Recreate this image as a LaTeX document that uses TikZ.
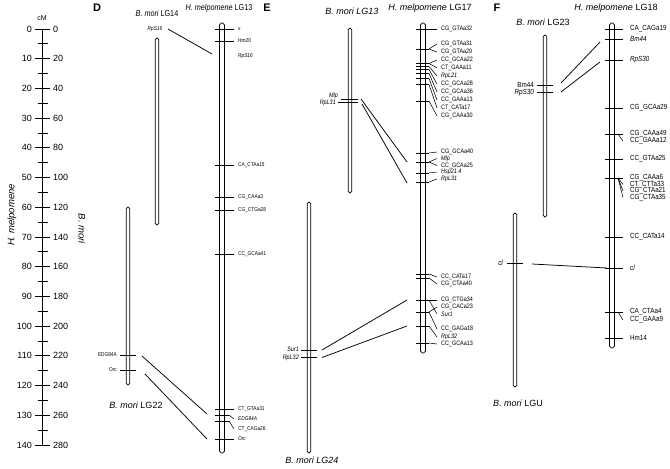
\documentclass[tikz,border=0pt]{standalone}
\usepackage{fontspec}
\setmainfont{Liberation Sans}
\newfontfamily\nf{Liberation Sans}[FakeStretch=0.85]
\newcommand\chrom[4]{\draw[chromo] (#1-#4,#2) rectangle (#1+#4,#3);}
% H-side marker: name, tick y, label y, text
\newcommand\hm[4]{%
  \draw[tk] (\cx-\tl,#2) coordinate (#1t) -- (\cx+\tr,#2) coordinate (#1r);
  \draw[leader] (#1r) -- (\cx+\be,#3);
  \node[lab] (#1) at (\cx+\lo,#3) {#4};
}
\begin{document}
\begin{tikzpicture}[x=1pt,y=-1pt,
  chromo/.style={draw=black,line width=0.75pt,fill=white,rounded corners=1.7pt},
  tk/.style={line width=0.9pt},
  leader/.style={line width=0.55pt},
  link/.style={line width=0.75pt},
  sc/.style={font=\fontsize{9}{10}\selectfont,inner sep=0pt},
  panel/.style={font=\fontsize{11}{12}\selectfont\bfseries,inner sep=0pt},
  ttlS/.style={font=\nf\fontsize{8.5}{9}\selectfont,inner sep=0pt},
  ttlL/.style={font=\fontsize{9}{10}\selectfont,inner sep=0pt},
  lD/.style={font=\nf\fontsize{5.6}{6}\selectfont,inner sep=0pt,anchor=west},
  lE/.style={font=\nf\fontsize{6.4}{7}\selectfont,inner sep=0pt,anchor=west},
  lF/.style={font=\nf\fontsize{7.4}{8}\selectfont,inner sep=0pt,anchor=west},
]
\useasboundingbox (0,0) rectangle (670,469);

% ---------------- scale bar ----------------
\node[font=\fontsize{7}{8}\selectfont,inner sep=0pt] (cm) at (42,18) {cM};
\draw[line width=0.9pt] (42,29) coordinate (sctop) -- (42,445) coordinate (scbot);
\foreach \i in {0,...,14}{
  \pgfmathsetmacro\yy{29+\i*29.714}
  \pgfmathtruncatemacro\a{\i*10}
  \pgfmathtruncatemacro\b{\i*20}
  \draw[line width=0.9pt] (35,\yy) -- (50,\yy);
  \node[sc,anchor=east] (hl\i) at (32,\yy) {\a};
  \node[sc,anchor=west] (bl\i) at (53,\yy) {\b};
}
\foreach \i in {0,...,13}{
  \pgfmathsetmacro\yy{29+(\i+0.5)*29.714}
  \draw[line width=0.9pt] (37.5,\yy) -- (47.5,\yy);
}
\node[font=\fontsize{9.5}{10}\selectfont\itshape,rotate=90,inner sep=0pt] (hmel) at (12,215) {H. melpomene};
\node[font=\fontsize{9.5}{10}\selectfont\itshape,rotate=-90,inner sep=0pt] (bmori) at (82,229) {B. mori};

% ---------------- panel D ----------------
\node[panel] (pD) at (97,8) {D};
\node[ttlS] (tD1) at (157,13) {{\itshape B. mori} LG14};
\node[ttlS] (tD2) at (219,8) {{\itshape H. melpomene} LG13};
\node[ttlL] (tD3) at (136,405) {{\itshape B. mori} LG22};
\chrom{157}{38}{225}{1.8}
\chrom{128}{207}{385}{1.8}
\chrom{222}{23}{453}{2.4}
\node[lD,anchor=center] (dB1) at (155,29) {\itshape RpS16};
\draw[tk] (120,355) -- (136,355);
\draw[tk] (120,370) -- (136,370);
\node[lD,anchor=east] (dB2) at (117,355) {EDG84A};
\node[lD,anchor=east] (dB3) at (117,370) {Orc};
\begin{scope}[lab/.style={lD}]
\def\cx{222}\def\tl{7}\def\tr{7}\def\be{12}\def\lo{16}
\hm{d1}{29}{29}{v}
\hm{d2}{41}{41}{Hm20}
\node[lab] (d3) at (238,56) {\itshape RpS16};
\hm{d4}{165}{165}{CA\_CTAa15}
\hm{d5}{197}{197}{CG\_CAAa3}
\hm{d6}{210}{210}{CG\_CTGa28}
\hm{d7}{254}{254}{CC\_GCAa41}
\hm{d8}{409}{409}{CT\_GTAa31}
\hm{d9}{415}{419}{\itshape EDG84A}
\hm{d10}{421}{429}{CT\_CAGa26}
\hm{d11}{439}{439}{\itshape Orc}
\end{scope}
\coordinate (dl1a) at (168,29);  \coordinate (dl1b) at (212,54);
\coordinate (dl2a) at (142,356); \coordinate (dl2b) at (207,414);
\coordinate (dl3a) at (145,374); \coordinate (dl3b) at (207,439);
\draw[link] (dl1a) -- (dl1b);
\draw[link] (dl2a) -- (dl2b);
\draw[link] (dl3a) -- (dl3b);

% ---------------- panel E ----------------
\node[panel] (pE) at (267,8) {E};
\node[ttlL] (tE1) at (352,11) {\itshape B. mori LG13};
\node[ttlL] (tE2) at (430,8) {{\itshape H. melpomene} LG17};
\node[ttlL] (tE3) at (312,460) {\itshape B. mori LG24};
\chrom{350}{28}{193}{1.8}
\chrom{309}{202}{453}{1.8}
\chrom{423}{23}{353}{2.4}
\draw[tk] (341,99) -- (358,99);
\draw[tk] (338,102.5) -- (358,102.5);
\node[lE,anchor=east] (eB1) at (338,95.5) {\itshape Mlp};
\node[lE,anchor=east] (eB2) at (336,102.5) {\itshape RpL31};
\draw[tk] (301,350) -- (317,350);
\draw[tk] (301,357.5) -- (317,357.5);
\node[lE,anchor=east] (eB3) at (299,349.5) {\itshape Sur1};
\node[lE,anchor=east] (eB4) at (299,357.5) {\itshape RpL32};
\begin{scope}[lab/.style={lE}]
\def\cx{423}\def\tl{7}\def\tr{6}\def\be{14}\def\lo{18}
\hm{e1}{29}{29}{CG\_GTAa32}
\hm{e2}{49}{44}{CG\_GTAa31}
\hm{e3}{49}{52}{CG\_GTAa29}
\hm{e4}{63.5}{60}{CC\_GCAa22}
\hm{e5}{63.5}{68}{CT\_GAAa11}
\hm{e6}{66.5}{76}{\itshape RpL21}
\hm{e7}{69.5}{84}{CC\_GCAa28}
\hm{e8}{73.5}{92}{CC\_GCAa36}
\hm{e9}{78.5}{100}{CC\_GAAa13}
\hm{e10}{84.5}{108}{CT\_CATa17}
\hm{e11}{101}{116}{CG\_CAAa30}
\hm{e12}{153}{152}{CG\_GCAa40}
\hm{e13}{162}{158.5}{\itshape Mlp}
\hm{e14}{162}{165.5}{CC\_GCAa25}
\hm{e15}{173}{172}{\itshape Hsp21.4}
\hm{e16}{182}{179}{\itshape RpL31}
\hm{e17}{274}{277}{CC\_CATa17}
\hm{e18}{278}{284}{CG\_CTAa40}
\hm{e19}{300}{300}{CG\_CTGa34}
\hm{e20}{312}{307}{CG\_CACa23}
\hm{e21}{300}{314}{\itshape Sur1}
\hm{e22}{312}{329}{CC\_GAGa18}
\hm{e23}{326}{337}{\itshape RpL32}
\hm{e24}{343}{344}{CC\_GCAa13}
\end{scope}
\coordinate (el1a) at (361,99);    \coordinate (el1b) at (407,162);
\coordinate (el2a) at (362,104);   \coordinate (el2b) at (407,183);
\coordinate (el3a) at (322,350);   \coordinate (el3b) at (407,300);
\coordinate (el4a) at (322,357.5); \coordinate (el4b) at (407,326);
\draw[link] (el1a) -- (el1b);
\draw[link] (el2a) -- (el2b);
\draw[link] (el3a) -- (el3b);
\draw[link] (el4a) -- (el4b);

% ---------------- panel F ----------------
\node[panel] (pF) at (497,8) {F};
\node[ttlL] (tF1) at (616,8) {{\itshape H. melpomene} LG18};
\node[ttlL] (tF2) at (543,22) {{\itshape B. mori} LG23};
\node[ttlL] (tF3) at (518,403) {{\itshape B. mori} LGU};
\chrom{545}{35}{217}{1.8}
\chrom{515}{213}{387}{1.8}
\chrom{612}{23}{348}{2.4}
\draw[tk] (537,85) -- (553,85);
\draw[tk] (537,92) -- (553,92);
\node[lF,anchor=east] (fB1) at (534,84.5) {Bm44};
\node[lF,anchor=east] (fB2) at (534,92.5) {\itshape RpS30};
\draw[tk] (507,263.5) -- (523,263.5);
\node[lF,anchor=east] (fB3) at (503,263) {\itshape cl};
\begin{scope}[lab/.style={lF}]
\def\cx{612}\def\tl{7}\def\tr{6}\def\be{11}\def\lo{18}
\hm{f1}{29}{29}{CA\_CAGa19}
\hm{f2}{39}{39}{\itshape Bm44}
\hm{f3}{60}{60}{\itshape RpS30}
\hm{f4}{108}{108}{CG\_GCAa29}
\hm{f5}{134}{134}{CG\_CAAa49}
\hm{f6}{134}{141}{CC\_GAAa12}
\hm{f7}{159}{159}{CC\_GTAa25}
\hm{f8}{178}{178}{CG\_CAAa6}
\hm{f9}{178}{184.5}{CT\_CTTa33}
\hm{f10}{178}{191}{CG\_CTAa21}
\hm{f11}{178}{197.5}{CG\_CTAa35}
\hm{f12}{237}{237}{CC\_CATa14}
\hm{f13}{268}{268}{\itshape cl}
\hm{f14}{312}{312}{CA\_CTAa4}
\hm{f15}{312}{320}{CC\_GAAa9}
\hm{f16}{338}{338}{Hm14}
\end{scope}
\coordinate (fl1a) at (561,83);  \coordinate (fl1b) at (600,42);
\coordinate (fl2a) at (561,92);  \coordinate (fl2b) at (600,62);
\coordinate (fl3a) at (532,264); \coordinate (fl3b) at (607,268);
\draw[link] (fl1a) -- (fl1b);
\draw[link] (fl2a) -- (fl2b);
\draw[link] (fl3a) -- (fl3b);
\end{tikzpicture}
\end{document}
